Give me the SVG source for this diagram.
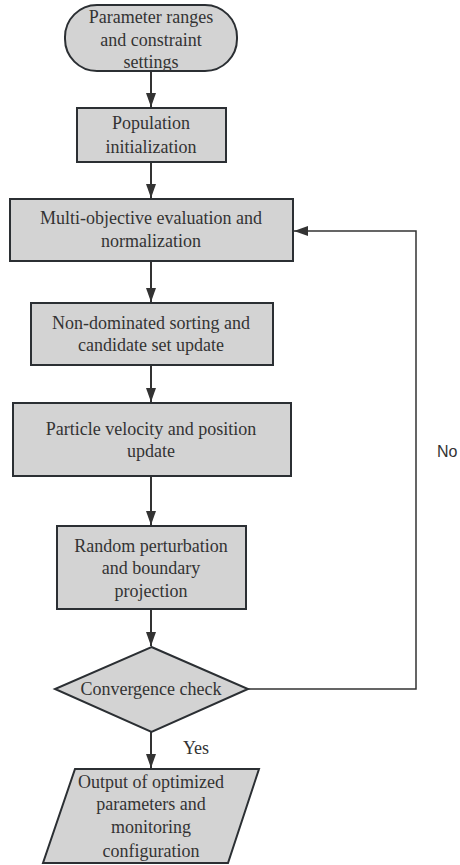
<svg xmlns="http://www.w3.org/2000/svg" width="460" height="865" viewBox="0 0 460 865">
<defs>
<style>
.n{fill:#d3d3d3;stroke:#2b2f33;stroke-width:2}
.t{font-family:'Liberation Serif','Times New Roman',Times,serif;font-size:18px;fill:#333;text-anchor:middle}
.s{font-family:'Liberation Sans',Arial,sans-serif;font-size:16px;fill:#333}
.c{fill:none;stroke:#333;stroke-width:2}
.f{fill:none;stroke:#333;stroke-width:1.5}
</style>
<marker id="ah2" viewBox="0 0 14 10" refX="14" refY="5" markerWidth="14" markerHeight="10" markerUnits="userSpaceOnUse" orient="auto">
<path d="M0,0 L14,5 L0,10 z" fill="#333"/>
</marker>
</defs>
<rect width="460" height="865" fill="#fff"/>
<g id="connectors">
<line class="c" x1="151" y1="71" x2="151" y2="107" marker-end="url(#ah2)"/>
<line class="c" x1="151" y1="162" x2="151" y2="198" marker-end="url(#ah2)"/>
<line class="c" x1="151" y1="261" x2="151" y2="302" marker-end="url(#ah2)"/>
<line class="c" x1="151" y1="365" x2="151" y2="402" marker-end="url(#ah2)"/>
<line class="c" x1="151" y1="476" x2="151" y2="525" marker-end="url(#ah2)"/>
<line class="c" x1="151" y1="609" x2="151" y2="646" marker-end="url(#ah2)"/>
<line class="c" x1="151" y1="732" x2="151" y2="768" marker-end="url(#ah2)"/>
<polyline class="f" points="248,689 416,689 416,231 294,231" marker-end="url(#ah2)"/>
<text class="t" x="196" y="754">Yes</text>
<text class="s" x="437" y="457">No</text>
</g>
<g id="start">
<rect class="n" x="65" y="5" width="172" height="66" rx="32"/>
<text class="t" x="151" y="23">Parameter ranges</text>
<text class="t" x="151" y="46">and constraint</text>
<text class="t" x="151" y="68">settings</text>
</g>
<g id="init">
<rect class="n" x="77" y="108" width="149" height="54"/>
<text class="t" x="151" y="129">Population</text>
<text class="t" x="151" y="153">initialization</text>
</g>
<g id="eval">
<rect class="n" x="10" y="199" width="283" height="62"/>
<text class="t" x="151" y="224">Multi-objective evaluation and</text>
<text class="t" x="151" y="247">normalization</text>
</g>
<g id="sort">
<rect class="n" x="31" y="303" width="242" height="62"/>
<text class="t" x="151" y="329">Non-dominated sorting and</text>
<text class="t" x="151" y="351">candidate set update</text>
</g>
<g id="pso">
<rect class="n" x="13" y="403" width="278" height="73"/>
<text class="t" x="151" y="435">Particle velocity and position</text>
<text class="t" x="151" y="457">update</text>
</g>
<g id="perturb">
<rect class="n" x="57" y="526" width="189" height="83"/>
<text class="t" x="151" y="552">Random perturbation</text>
<text class="t" x="151" y="574">and boundary</text>
<text class="t" x="151" y="597">projection</text>
</g>
<g id="check">
<polygon class="n" points="151.5,647 248,689 151.5,732 55,689"/>
<text class="t" x="151" y="695">Convergence check</text>
</g>
<g id="output">
<polygon class="n" points="75,769 259,769 228,863 43,863"/>
<text class="t" x="151" y="788">Output of optimized</text>
<text class="t" x="151" y="810">parameters and</text>
<text class="t" x="151" y="833">monitoring</text>
<text class="t" x="151" y="857">configuration</text>
</g>
</svg>
